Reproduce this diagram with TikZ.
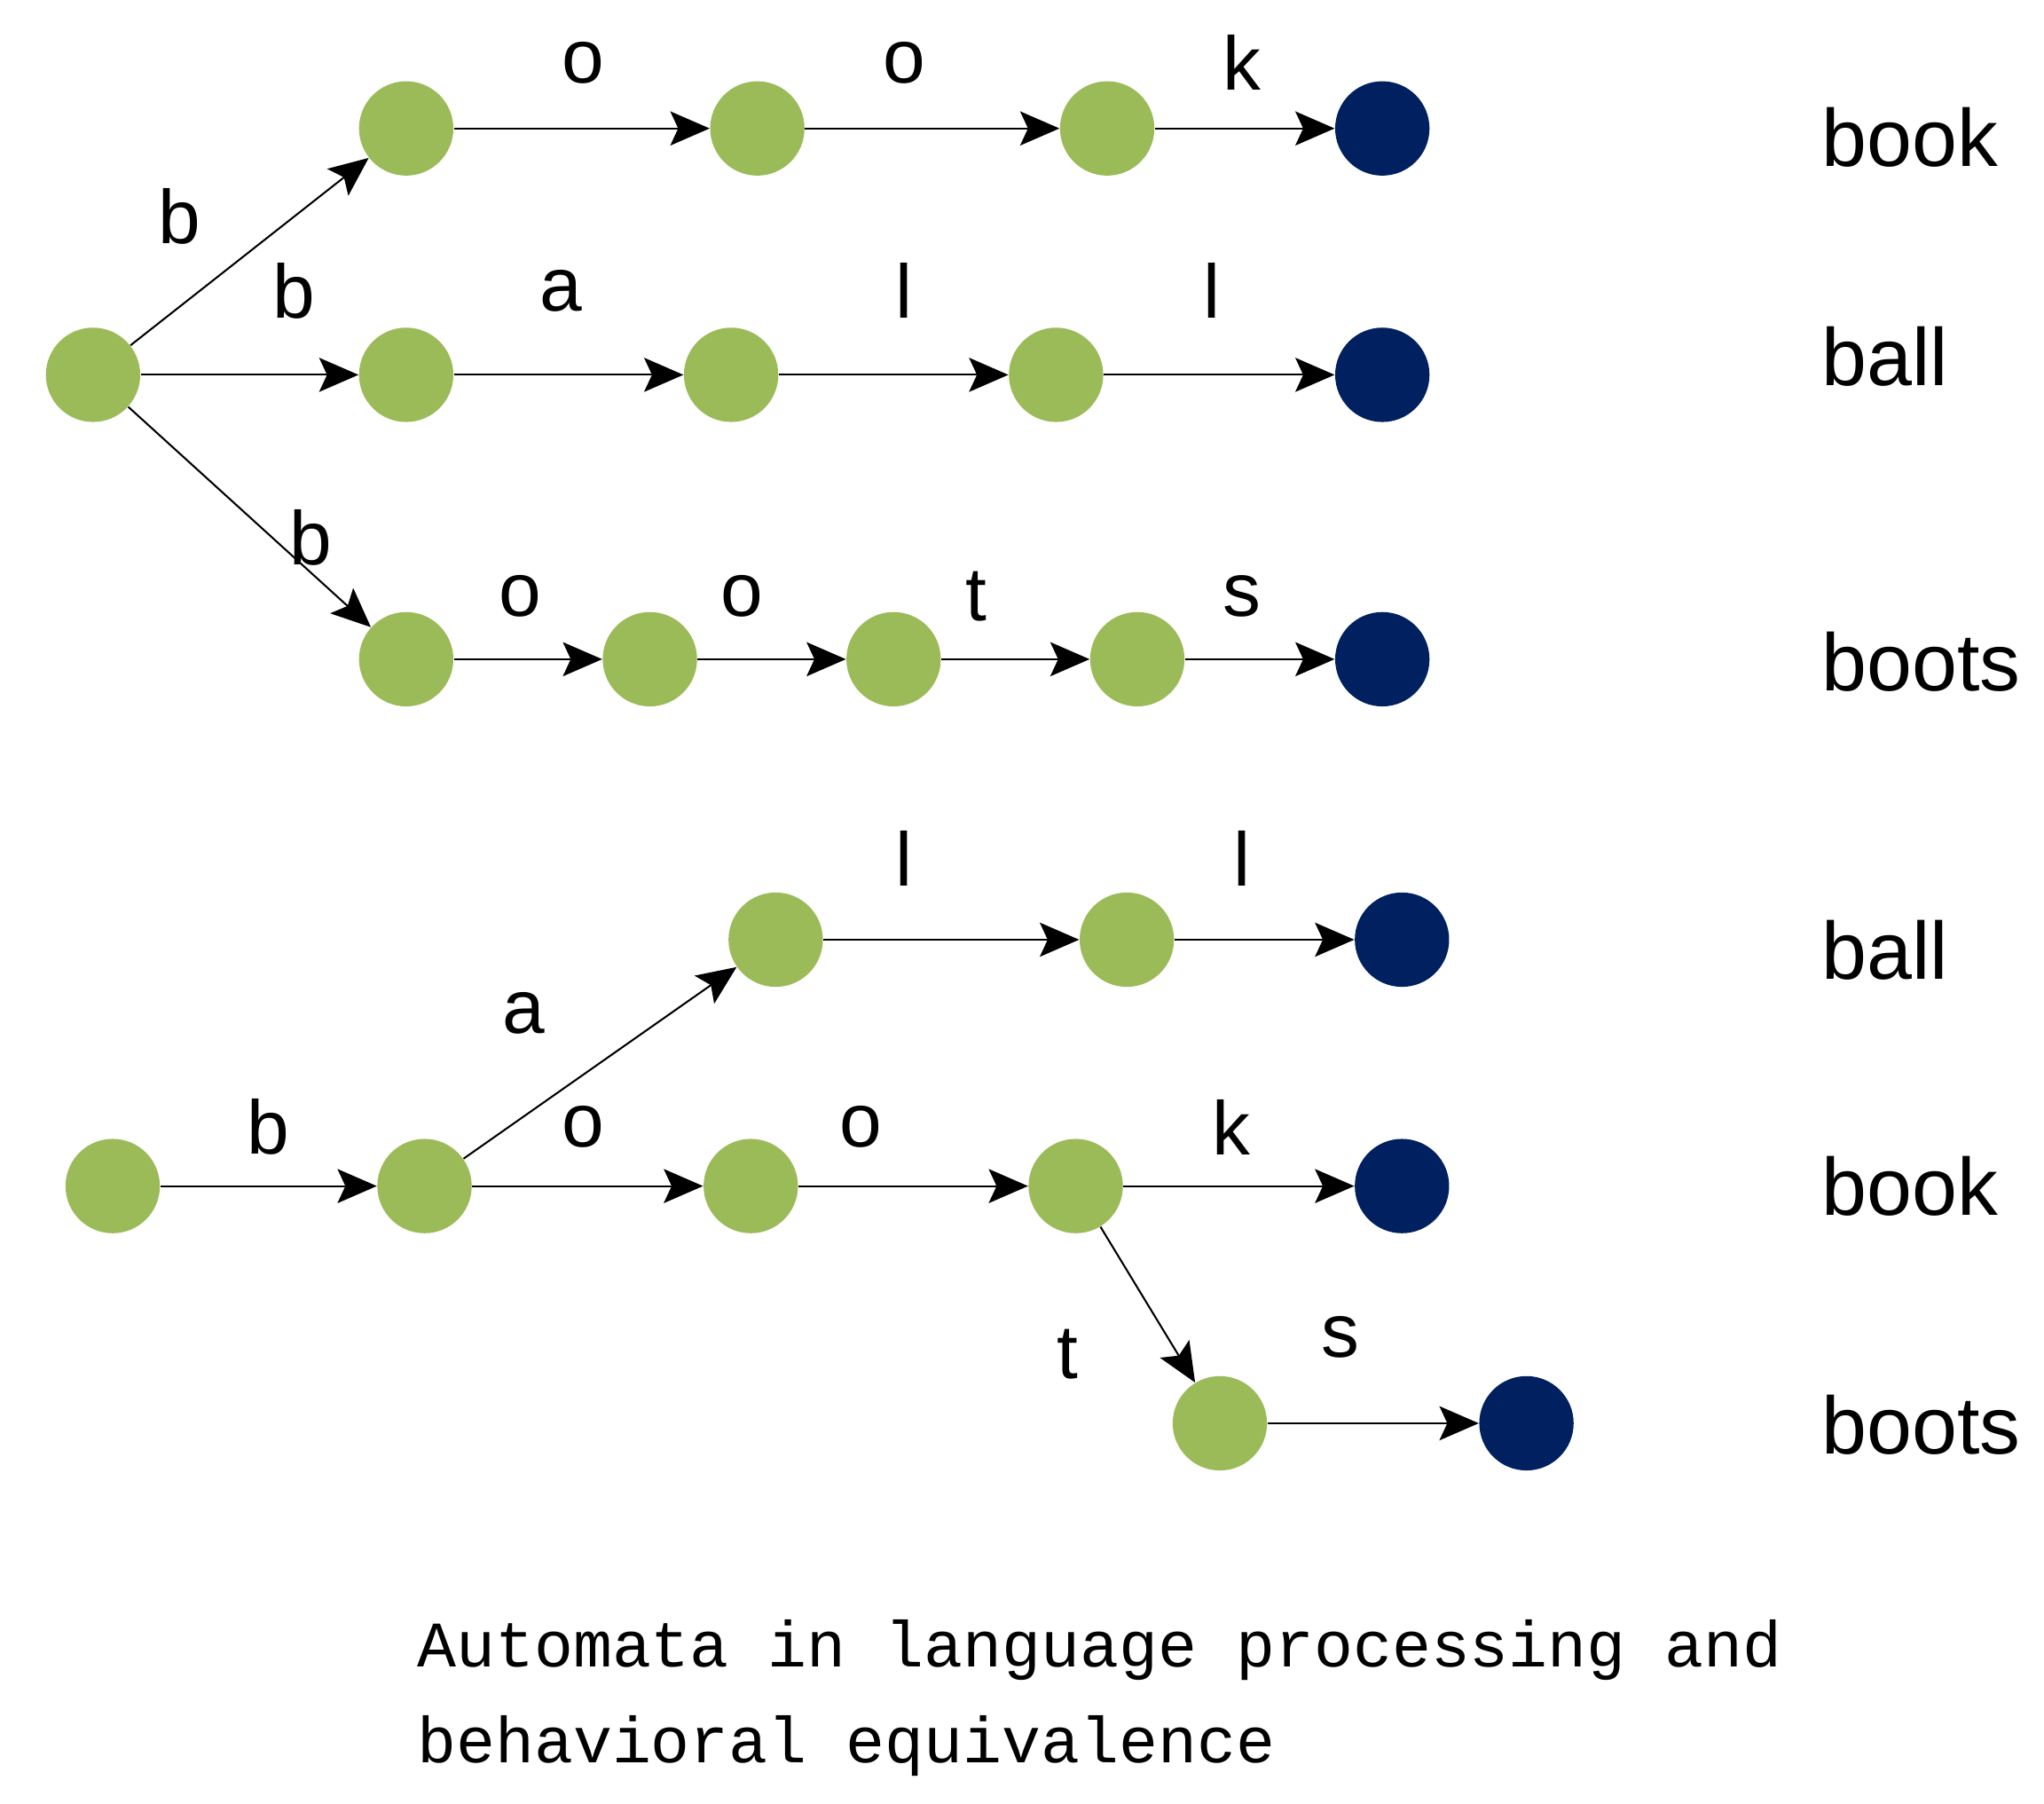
\documentclass[tikz,border=0pt]{standalone}
\usepackage{fontspec}
\setmainfont{Liberation Sans}
\newfontfamily\capfont{Liberation Mono}
\usetikzlibrary{arrows.meta}
\definecolor{gn}{HTML}{9BBB59}
\definecolor{nv}{HTML}{002060}
\begin{document}
\begin{tikzpicture}[x=0.5pt,y=-0.5pt,
 s/.style={circle,fill=gn,minimum size=36pt,inner sep=0pt},
 f/.style={circle,fill=nv,minimum size=36pt,inner sep=0pt},
 e/.style={-{Stealth[length=15pt,width=13pt,inset=3pt]},line width=0.7pt},
 lb/.style={font=\fontsize{29}{30}\selectfont},
 wd/.style={font=\fontsize{31}{32}\selectfont,anchor=west,inner sep=0pt},
 cp/.style={anchor=base west,font=\capfont\fontsize{24.8}{30}\selectfont,inner sep=0pt}]
\useasboundingbox (0,0) rectangle (1560,1376);
% top
\node[s] (r) at (71,286) {};
\node[s] (a1) at (310,98) {}; \node[s] (a2) at (578,98) {}; \node[s] (a3) at (845,98) {}; \node[f] (a4) at (1055,98) {};
\node[s] (b1) at (310,286) {}; \node[s] (b2) at (558,286) {}; \node[s] (b3) at (806,286) {}; \node[f] (b4) at (1055,286) {};
\node[s] (c1) at (310,503) {}; \node[s] (c2) at (496,503) {}; \node[s] (c3) at (682,503) {}; \node[s] (c4) at (868,503) {}; \node[f] (c5) at (1055,503) {};
\draw[e] (r)--(a1); \draw[e] (a1)--(a2); \draw[e] (a2)--(a3); \draw[e] (a3)--(a4);
\draw[e] (r)--(b1); \draw[e] (b1)--(b2); \draw[e] (b2)--(b3); \draw[e] (b3)--(b4);
\draw[e] (r)--(c1); \draw[e] (c1)--(c2); \draw[e] (c2)--(c3); \draw[e] (c3)--(c4); \draw[e] (c4)--(c5);
\node[lb] (t1) at (137,165) {b}; \node[lb] (t2) at (224,222) {b}; \node[lb] (t3) at (237,410) {b};
\node[lb] (t4) at (445,48) {o}; \node[lb] (t5) at (690,48) {o}; \node[lb] (t6) at (948,48) {k};
\node[lb] (t7) at (428,222) {a}; \node[lb] (t8) at (690,222) {l}; \node[lb] (t9) at (925,222) {l};
\node[lb] (t10) at (397,455) {o}; \node[lb] (t11) at (566,455) {o}; \node[lb] (t12) at (745,455) {t}; \node[lb] (t13) at (948,455) {s};
\node[wd] (w1) at (1390,105) {book}; \node[wd] (w2) at (1390,272) {ball}; \node[wd] (w3) at (1390,505) {boots};
% bottom
\node[s] (d1) at (592,717) {}; \node[s] (d2) at (860,717) {}; \node[f] (d3) at (1070,717) {};
\node[s] (e0) at (86,905) {}; \node[s] (e1) at (324,905) {}; \node[s] (e2) at (573,905) {}; \node[s] (e3) at (821,905) {}; \node[f] (e4) at (1070,905) {};
\node[s] (g1) at (931,1086) {}; \node[f] (g2) at (1165,1086) {};
\draw[e] (e0)--(e1); \draw[e] (e1)--(d1); \draw[e] (d1)--(d2); \draw[e] (d2)--(d3);
\draw[e] (e1)--(e2); \draw[e] (e2)--(e3); \draw[e] (e3)--(e4);
\draw[e] (e3)--(g1); \draw[e] (g1)--(g2);
\node[lb] (u1) at (690,655) {l}; \node[lb] (u2) at (948,655) {l}; \node[lb] (u3) at (400,773) {a};
\node[lb] (u4) at (205,860) {b}; \node[lb] (u5) at (445,860) {o}; \node[lb] (u6) at (657,860) {o}; \node[lb] (u7) at (940,860) {k};
\node[lb] (u8) at (815,1033) {t}; \node[lb] (u9) at (1023,1020) {s};
\node[wd] (w4) at (1390,725) {ball}; \node[wd] (w5) at (1390,905) {book}; \node[wd] (w6) at (1390,1087) {boots};
\node[cp] (cap1) at (318,1272) {Automata in language processing and};
\node[cp] (cap2) at (318,1345) {behavioral equivalence};
\end{tikzpicture}
\end{document}
